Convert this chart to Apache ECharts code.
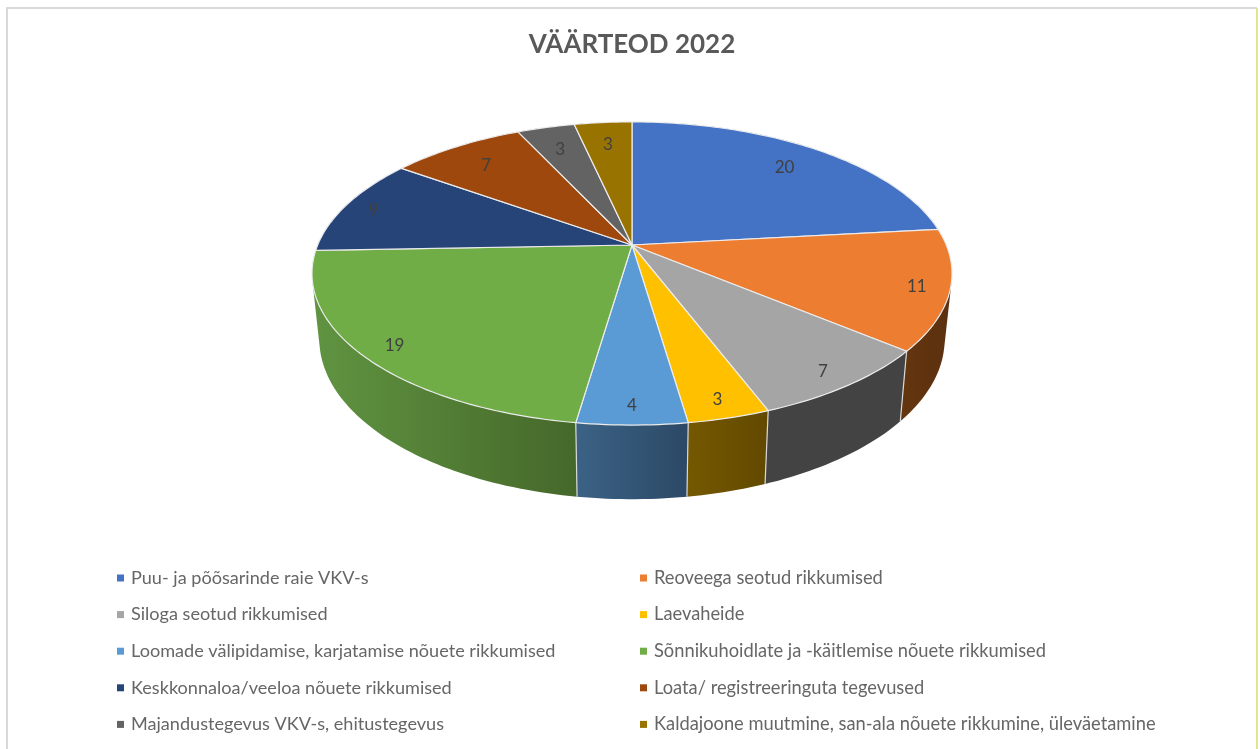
<!DOCTYPE html>
<html><head><meta charset="utf-8">
<style>html,body{margin:0;padding:0;background:#fff}#c{width:1260px;height:749px}</style>
<script src="https://cdn.jsdelivr.net/npm/echarts@6/dist/echarts.min.js"></script>
</head><body><div id="c"></div>
<script>
const titleText = 'VÄÄRTEOD 2022';
const categories = [
  'Puu- ja põõsarinde raie VKV-s',
  'Reoveega seotud rikkumised',
  'Siloga seotud rikkumised',
  'Laevaheide',
  'Loomade välipidamise, karjatamise nõuete rikkumised',
  'Sõnnikuhoidlate ja -käitlemise nõuete rikkumised',
  'Keskkonnaloa/veeloa nõuete rikkumised',
  'Loata/ registreeringuta tegevused',
  'Majandustegevus VKV-s, ehitustegevus',
  'Kaldajoone muutmine, san-ala nõuete rikkumine, üleväetamine'
];
const values = [20, 11, 7, 3, 4, 19, 9, 7, 3, 3];
const topColors = ['#4472C4','#ED7D31','#A5A5A5','#FFC000','#5B9BD5','#70AD47','#264478','#9E480E','#636363','#997300'];
const wallLight = ['#2a4577','#64360f','#434343','#755800','#3b6285','#609441','#172a49','#60300a','#3c3c3c','#5d4600'];
const wallDark  = ['#2a4577','#5c300f','#434343','#624900','#2c4966','#45682a','#172a49','#60300a','#3c3c3c','#5d4600'];

const total = values.reduce((a, b) => a + b, 0);
const view = {cx: 632, cy: 245, R: 314.3, S: 146.2, p: 0.188, drop: 70, yStretch: 0.056, yRef: 351, shrink: 0.977};

function onTop(angle, f) {
  const u = Math.sin(angle) * f, v = -Math.cos(angle) * f, d = 1 - view.p * v;
  return [view.cx + view.R * u / d, view.cy + view.S * v / d];
}
function onBottom(pt) {
  return [view.cx + view.shrink * (pt[0] - view.cx), pt[1] + view.drop + view.yStretch * (pt[1] - view.yRef)];
}
function arc(a0, a1) {
  const n = Math.max(2, Math.ceil((a1 - a0) / 0.02)), out = [];
  for (let i = 0; i <= n; i++) out.push(onTop(a0 + (a1 - a0) * i / n, 1));
  return out;
}
// Outline of a slice's side wall, including the straight silhouette edge at the pie's flanks.
function hull(pts) {
  const s = pts.slice().sort((a, b) => a[0] - b[0] || a[1] - b[1]);
  const cross = (o, a, b) => (a[0] - o[0]) * (b[1] - o[1]) - (a[1] - o[1]) * (b[0] - o[0]);
  const lo = [], up = [];
  for (const p of s) { while (lo.length > 1 && cross(lo[lo.length - 2], lo[lo.length - 1], p) <= 0) lo.pop(); lo.push(p); }
  for (const p of s.reverse()) { while (up.length > 1 && cross(up[up.length - 2], up[up.length - 1], p) <= 0) up.pop(); up.push(p); }
  lo.pop(); up.pop();
  return lo.concat(up);
}

function makeRenderer(idx) {
  return function (params, api) {
    const before = values.slice(0, idx).reduce((a, b) => a + b, 0);
    const val = api.value(0);
    const a0 = before / total * 2 * Math.PI, a1 = (before + val) / total * 2 * Math.PI;
    const rim = arc(a0, a1);
    const low = rim.map(onBottom);
    const mid = (a0 + a1) / 2;
    const labelF = -Math.cos(mid) < -0.5 ? 0.81 : 0.9;
    const lp = onTop(mid, labelF);
    const children = [
      {type: 'polygon', z2: 1, shape: {points: hull(rim.concat(low))}, silent: true,
       style: {fill: {type: 'linear', x: 0, y: 0, x2: 1, y2: 0, colorStops: [
         {offset: 0, color: wallLight[idx]}, {offset: 1, color: wallDark[idx]}]}}},
      {type: 'polygon', z2: 10, shape: {points: [[view.cx, view.cy]].concat(rim)}, silent: true,
       style: {fill: topColors[idx], stroke: '#ececec', lineWidth: 1.2, lineJoin: 'round'}},
      {type: 'text', z2: 20, silent: true, x: lp[0], y: lp[1] + 2,
       style: {text: String(val), fill: '#404040', font: '17px Lato', align: 'center', verticalAlign: 'middle'}}
    ];
    if (-Math.cos(a0) > 0.3) {
      const t = rim[0], b = onBottom(t);
      children.push({type: 'line', z2: 5, silent: true, shape: {x1: t[0], y1: t[1], x2: b[0], y2: b[1]},
        style: {stroke: '#d8d8d8', lineWidth: 1.2}});
    }
    return {type: 'group', children};
  };
}

const series = categories.map((name, i) => ({
  type: 'custom', name, coordinateSystem: 'none', silent: true, animation: false,
  itemStyle: {color: topColors[i]}, data: [[values[i]]], renderItem: makeRenderer(i), clip: false
}));

function legendBlock(left, idxs, fontSize) {
  return {
    orient: 'vertical', left, top: 568, itemWidth: 7, itemHeight: 7, itemGap: 16.6, icon: 'rect',
    selectedMode: false, padding: 0,
    textStyle: {color: '#666666', fontFamily: 'Lato', fontSize, lineHeight: 20, padding: [0, 0, 0, 2]},
    data: idxs.map(i => categories[i])
  };
}

const chart = echarts.init(document.getElementById('c'), null, {renderer: 'canvas', width: 1260, height: 749});
chart.setOption({
  backgroundColor: '#ffffff',
  animation: false,
  title: {text: titleText, left: 627, top: 27, textAlign: 'center',
    textStyle: {color: '#595959', fontFamily: 'Lato', fontWeight: 'bold', fontSize: 26}},
  legend: [legendBlock(117, [0, 2, 4, 6, 8], 18.1), legendBlock(640, [1, 3, 5, 7, 9], 18.3)],
  graphic: [
    {type: 'polyline', silent: true, shape: {points: [[7, 749], [7, 8], [1257, 8]]}, style: {stroke: '#d9d9d9', lineWidth: 2, fill: null}},
    {type: 'line', silent: true, shape: {x1: 1257, y1: 8, x2: 1257, y2: 749}, style: {stroke: '#e4e48c', lineWidth: 2}}
  ],
  series
});
</script></body></html>
